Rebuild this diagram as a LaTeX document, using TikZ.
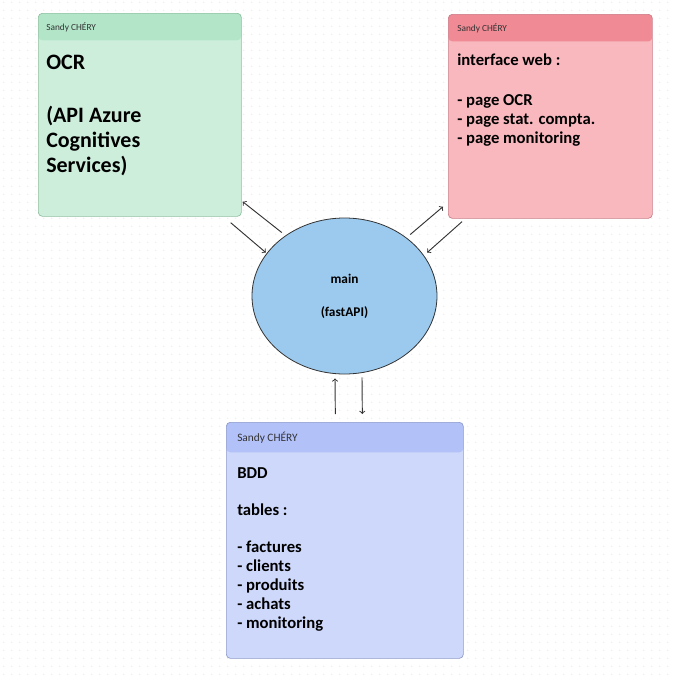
\documentclass[tikz,border=0pt]{standalone}
\usepackage{fontspec}
\setmainfont{Carlito}
\usetikzlibrary{shapes.geometric,positioning,calc,patterns.meta}

\definecolor{greenhead}{HTML}{B3E6C9}
\definecolor{greenbody}{HTML}{CEEEDC}
\definecolor{greenborder}{HTML}{8EBF9F}
\definecolor{redhead}{HTML}{F08A94}
\definecolor{redbody}{HTML}{F8B8BE}
\definecolor{redborder}{HTML}{C97F88}
\definecolor{bluehead}{HTML}{B3C1F9}
\definecolor{bluebody}{HTML}{CED8FA}
\definecolor{blueborder}{HTML}{8F9BC9}
\definecolor{mainfill}{HTML}{9CCAEE}
\definecolor{inkgrey}{HTML}{333333}
\definecolor{griddot}{HTML}{EEEEEE}

\tikzdeclarepattern{
    name=canvasdots, type=uncolored,
    bounding box={(0pt,0pt) and (5.75pt,5.75pt)},
    tile size={(5.75pt,5.75pt)},
    code={\fill (2.875pt,2.875pt) circle[radius=0.65pt];}
}

\begin{document}
\begin{tikzpicture}[
    x=0.75pt, y=-0.75pt,
    card/.style n args={4}{draw=#1border, fill=#1body, rounded corners=3pt, line width=0.5pt,
        inner sep=0, anchor=north west, minimum width=#2, minimum height=#3,
        path picture={\fill[#1head] (path picture bounding box.north west)
            rectangle ([yshift=-#4]path picture bounding box.north east);}},
    cardhead/.style={anchor=west, inner sep=0, text=inkgrey, font=\fontsize{7}{8}\selectfont},
    cardtext/.style={anchor=north west, inner sep=0, align=left,
        font=\fontsize{12.5}{14.25}\selectfont\bfseries},
    link/.style={->, line width=0.7pt, draw=inkgrey}
]
    \useasboundingbox (0,0) rectangle (672,678);

    % dotted canvas
    \fill[pattern=canvasdots, pattern color=griddot] (0,0) rectangle (672,678);

    % OCR
    \node[card={green}{152.25pt}{152.25pt}{20.25pt}] (ocr) at (38,13) {};
    \node[cardhead] (ocrhead) at (46,27) {Sandy CHÉRY};
    \node[cardtext, font=\fontsize{16.5}{18.75}\selectfont\bfseries] (ocrtext) at (46,55)
        {OCR\\[21pt](API Azure\\Cognitives\\Services)};

    % interface web
    \node[card={red}{153pt}{153pt}{20.25pt}] (web) at (448,14) {};
    \node[cardhead] (webhead) at (457,28) {Sandy CHÉRY};
    \node[cardtext] (webtext) at (457,54)
        {interface web :\\[15.75pt]- page OCR\\- page stat. compta.\\- page monitoring};

    % BDD
    \node[card={blue}{177.75pt}{177pt}{22.5pt}] (bdd) at (226,422) {};
    \node[cardhead, font=\fontsize{8.5}{10}\selectfont] (bddhead) at (237,438) {Sandy CHÉRY};
    \node[cardtext] (bddtext) at (237,467)
        {BDD\\[13.5pt]tables :\\[14pt]- factures\\- clients\\- produits\\- achats\\- monitoring};

    % main
    \node[ellipse, draw=inkgrey, fill=mainfill, line width=0.6pt, inner sep=0,
        minimum width=138.75pt, minimum height=117pt, align=center,
        font=\fontsize{10}{12.5}\selectfont\bfseries] (main) at (344.5,296)
        {main\\[12pt](fastAPI)};

    % links
    \draw[link] ($(main.north west)+(3,-8)$) -- ($(ocr.south east)+(1,-15)$);
    \draw[link] ($(ocr.south east)+(-11,6)$) -- ($(main.north west)+(-13,12)$);
    \draw[link] ($(main.north east)+(0,-6)$) -- ($(web.south west)+(-5,-12)$);
    \draw[link] ($(web.south west)+(14,3)$) -- ($(main.north east)+(17,12)$);
    \draw[link] ($(bdd.north)+(-9.5,-8)$) -- ($(main.south)+(-9.5,4)$);
    \draw[link] ($(main.south)+(17.5,3)$) -- ($(bdd.north)+(17.5,-8)$);
\end{tikzpicture}
\end{document}
